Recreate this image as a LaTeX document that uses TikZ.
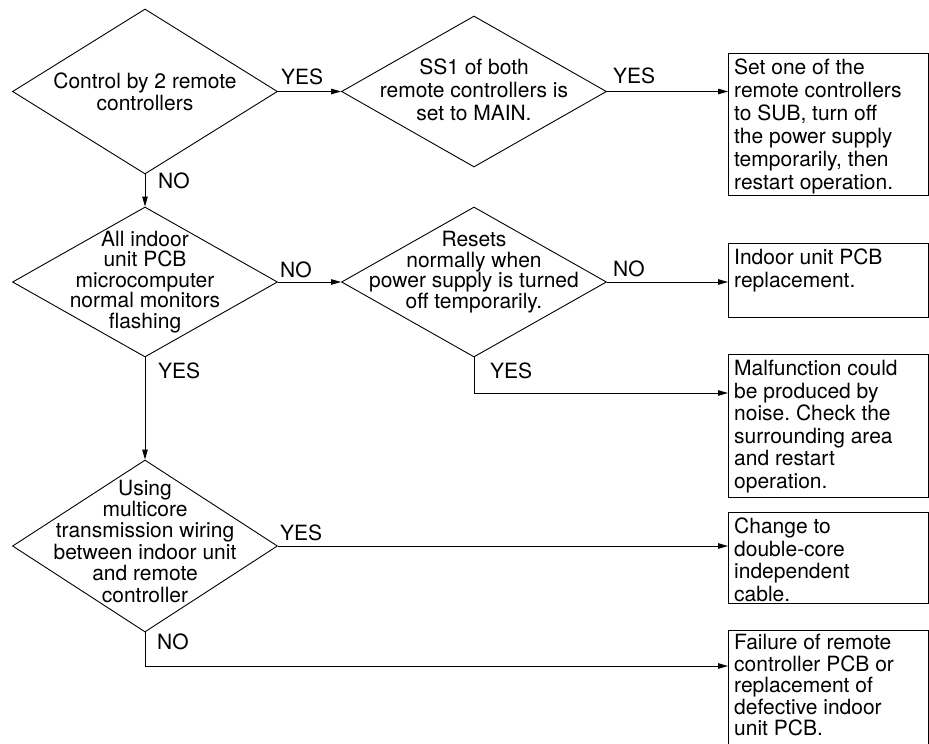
\documentclass[tikz,border=0pt]{standalone}
\usepackage{fontspec}
\setmainfont{TeX Gyre Heros}
\usetikzlibrary{shapes.geometric,arrows.meta}
\frenchspacing
\begin{document}
\begin{tikzpicture}[x=1pt,y=-1pt,
  every node/.style={font=\fontsize{21}{22}\selectfont},
  dia/.style={draw, diamond, line width=0.9pt, inner sep=0pt, minimum width=265pt},
  box/.style={draw, rectangle, line width=0.9pt, minimum width=200pt, inner sep=0pt, anchor=north west},
  txt/.style={anchor=north west, inner xsep=6pt, inner ysep=6pt, align=left, font=\fontsize{21}{22.5}\selectfont},
  dtxt/.style={align=center, inner sep=0pt},
  lab/.style={anchor=base west, inner sep=0pt},
  arr/.style={line width=0.9pt, -{Triangle[length=10pt,width=5.5pt]}}
]
\useasboundingbox (0,0) rectangle (929,744);

% decisions
\node[dia, minimum height=165pt] (d1) at (145,91.5) {};
\node[dtxt] (d1t) at (145,92) {Control by 2 remote\\controllers};
\node[dia, minimum height=151pt] (d2) at (474,91.5) {};
\node[dtxt, font=\fontsize{21}{23}\selectfont] (d2t) at (474,90) {SS1 of both\\remote controllers is\\set to MAIN.};
\node[dia, minimum height=150pt] (d3) at (145,282) {};
\node[dtxt, font=\fontsize{21}{20.5}\selectfont] (d3t) at (145,282) {All indoor\\unit PCB\\microcomputer\\normal monitors\\flashing};
\node[dia, minimum height=150pt] (d4) at (474,282) {};
\node[dtxt, font=\fontsize{21}{20.5}\selectfont] (d4t) at (474,272) {Resets\\normally when\\power supply is turned\\off temporarily.};
\node[dia, minimum height=172pt] (d5) at (145,546) {};
\node[dtxt, font=\fontsize{21}{21.4}\selectfont] (d5t) at (145,541) {Using\\multicore\\transmission wiring\\between indoor unit\\and remote\\controller};

% result boxes
\node[box, minimum height=142pt] (b1) at (728,53) {};
\node[txt, font=\fontsize{21}{23}\selectfont] (b1t) at (b1.north west) {Set one of the\\remote controllers\\to SUB, turn off\\the power supply\\temporarily, then\\restart operation.};
\node[box, minimum height=74pt] (b2) at (728,243) {};
\node[txt] (b2t) at (b2.north west) {Indoor unit PCB\\replacement.};
\node[box, minimum height=143pt] (b3) at (728,354) {};
\node[txt] (b3t) at (b3.north west) {Malfunction could\\be produced by\\noise. Check the\\surrounding area\\and restart\\operation.};
\node[box, minimum height=91pt] (b4) at (728,512) {};
\node[txt] (b4t) at (b4.north west) {Change to\\double-core\\independent\\cable.};
\node[box, minimum height=140pt] (b5) at (728,630) {};
\node[txt, inner ysep=4pt, font=\fontsize{21}{21.5}\selectfont] (b5t) at (b5.north west) {Failure of remote\\controller PCB or\\replacement of\\defective indoor\\unit PCB.};

\coordinate (a3) at (0,393);
\coordinate (a5) at (0,666);

% connectors
\draw[arr] (d1.east) -- (d2.west);
\draw[arr] (d2.east) -- (d2.east -| b1.west);
\draw[arr] (d1.south) -- (d3.north);
\draw[arr] (d3.east) -- (d4.west);
\draw[arr] (d4.east) -- (d4.east -| b2.west);
\draw[arr] (d4.south) |- (b3.west |- a3);
\draw[arr] (d3.south) -- (d5.north);
\draw[arr] (d5.east) -- (d5.east -| b4.west);
\draw[arr] (d5.south) |- (b5.west |- a5);

% labels
\node[lab] (l1) at (281,84) {YES};
\node[lab] (l2) at (613,83) {YES};
\node[lab] (l3) at (158,188) {NO};
\node[lab] (l4) at (280,277) {NO};
\node[lab] (l5) at (613,276) {NO};
\node[lab] (l6) at (158,378) {YES};
\node[lab] (l7) at (490,378) {YES};
\node[lab] (l8) at (280,540) {YES};
\node[lab] (l9) at (157,649) {NO};
\end{tikzpicture}
\end{document}
